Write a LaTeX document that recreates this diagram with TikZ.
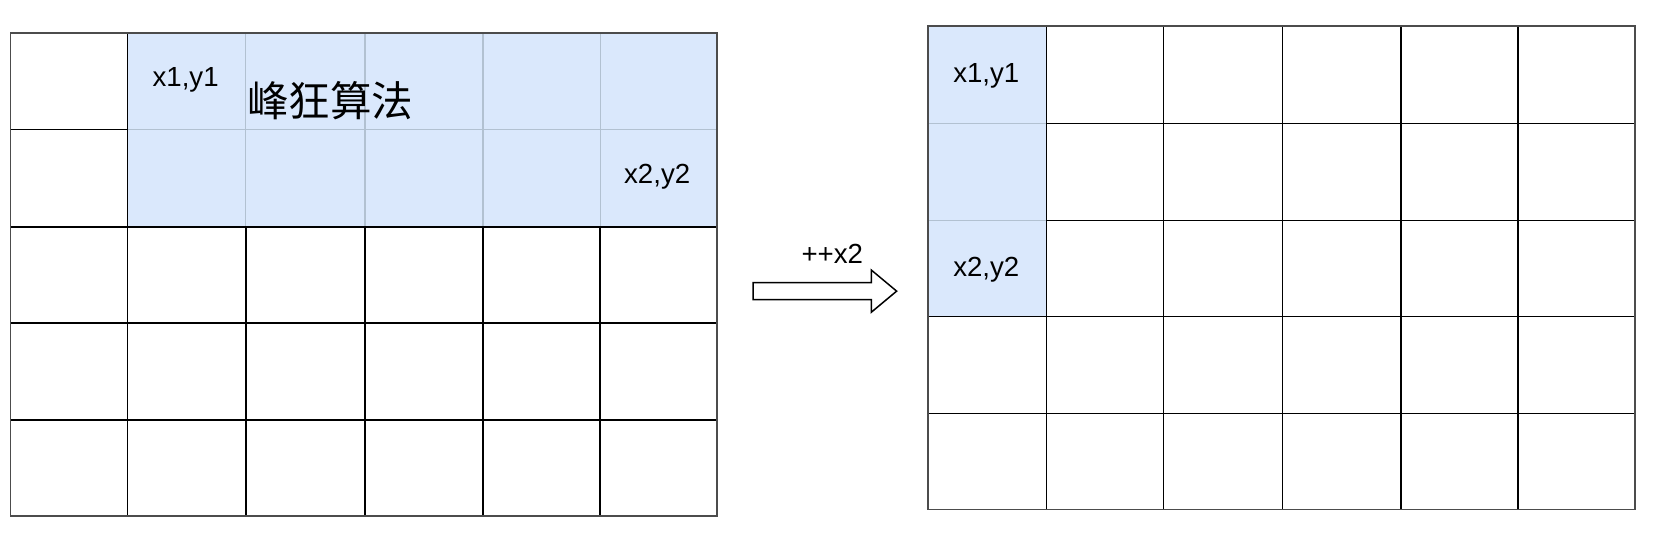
\documentclass[tikz,border=0pt]{standalone}
\usepackage{fontspec}
\setmainfont{Liberation Sans}
\newfontfamily\cjk{Noto Sans CJK SC}
\definecolor{hlblue}{HTML}{DAE8FC}
\definecolor{hlline}{HTML}{B2C1D1}
\tikzset{
  cell/.style={draw=black, line width=0.7pt},
  hlcell/.style={fill=hlblue, draw=hlline, line width=0.6pt},
  frame/.style={draw=black!70, line width=0.9pt},
  lbl/.style={font=\fontsize{13.1}{16}\selectfont, inner sep=0pt},
  bigtxt/.style={font=\cjk\fontsize{19.7}{23}\selectfont, inner sep=0pt},
  blockarrow/.style={draw=black, fill=white, line width=0.7pt, line join=miter},
}
\begin{document}
\begin{tikzpicture}[x=0.5pt,y=-0.5pt]
\useasboundingbox (0,0) rectangle (1568,518.5);

% left grid
\foreach \xa/\xb in {10/121,121/233,233/346,346/458,458/569,569/680}
  \foreach \ya/\yb in {31/123,123/215,215/306,306/398,398/489}
    \draw[cell] (\xa,\ya) rectangle (\xb,\yb);
\foreach \xa/\xb in {121/233,233/346,346/458,458/569,569/680}
  \foreach \ya/\yb in {31/123,123/215}
    \draw[hlcell] (\xa,\ya) rectangle (\xb,\yb);
\draw[cell] (121,31) -- (121,215) -- (680,215);
\draw[frame] (10,31) rectangle (680,489);

% right grid
\foreach \xa/\xb in {880/992,992/1103,1103/1216,1216/1328,1328/1439,1439/1550}
  \foreach \ya/\yb in {25/117,117/209,209/300,300/392,392/483}
    \draw[cell] (\xa,\ya) rectangle (\xb,\yb);
\foreach \ya/\yb in {25/117,117/209,209/300}
  \draw[hlcell] (880,\ya) rectangle (992,\yb);
\draw[cell] (880,300) -- (992,300) -- (992,25);
\draw[frame] (880,25) rectangle (1550,483);

% labels
\node[lbl] (p1) at (176,76) {x1,y1};
\node[bigtxt] (title) at (313,95) {峰狂算法};
\node[lbl] (p2) at (623,168) {x2,y2};
\node[lbl] (q1) at (935,72) {x1,y1};
\node[lbl] (q2) at (935,256) {x2,y2};

% step arrow
\node[lbl] (inc) at (789,241) {++x2};
\draw[blockarrow] (714,268) -- (826,268) -- (826,256) -- (850,276)
  -- (826,296) -- (826,284) -- (714,284) -- cycle;
\end{tikzpicture}
\end{document}
